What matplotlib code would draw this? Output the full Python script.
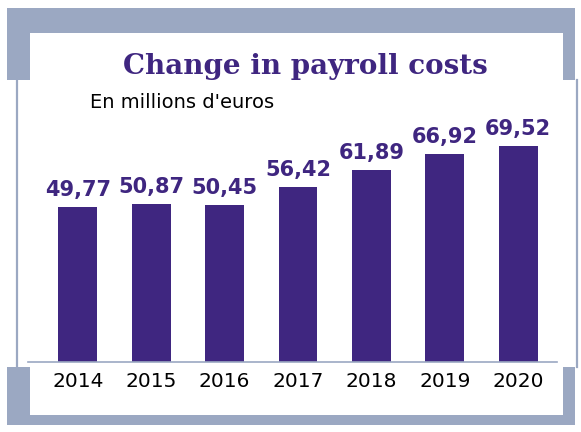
import matplotlib
matplotlib.use("Agg")
import matplotlib.pyplot as plt
from matplotlib.patches import Rectangle
from matplotlib.lines import Line2D

years = ["2014", "2015", "2016", "2017", "2018", "2019", "2020"]
values = [49.77, 50.87, 50.45, 56.42, 61.89, 66.92, 69.52]
labels = ["49,77", "50,87", "50,45", "56,42", "61,89", "66,92", "69,52"]

W, H = 581, 432
purple = "#3F2680"
frame = "#9BA8C2"

fig = plt.figure(figsize=(W / 100, H / 100), dpi=100)

def px_rect(x0, y0, x1, y1, color, z):
    fig.patches.append(Rectangle((x0 / W, 1 - y1 / H), (x1 - x0) / W, (y1 - y0) / H,
                                 transform=fig.transFigure, color=color, zorder=z, lw=0))

px_rect(7, 8, 575, 80, frame, 0)
px_rect(7, 367, 575, 425, frame, 0)
px_rect(30, 33, 563, 415, "white", 1)
for x in (17, 577):
    fig.lines.append(Line2D([x / W, x / W], [1 - 80 / H, 1 - 367 / H],
                            transform=fig.transFigure, color=frame, lw=1.6, zorder=0))

ax = fig.add_axes([28 / W, 1 - 362 / H, (557 - 28) / W, 248.6 / H])
ax.set_zorder(2)
ax.patch.set_visible(False)
x = range(len(years))
ax.bar(x, values, width=0.53, color=purple)
for xi, v, lab in zip(x, values, labels):
    ax.text(xi, v + 2.3, lab, ha="center", va="bottom", color=purple,
            fontsize=15, fontweight="bold", family="DejaVu Sans")
ax.set_xlim(-0.68, 6.53)
ax.set_ylim(0, 80)
ax.set_xticks(list(x))
ax.set_xticklabels(years, fontsize=14.5, color="black")
ax.tick_params(axis="x", length=0, pad=7)
ax.set_yticks([])
for s in ("top", "right", "left"):
    ax.spines[s].set_visible(False)
ax.spines["bottom"].set_color(frame)
ax.spines["bottom"].set_linewidth(1.2)

fig.text(305 / W, 1 - 66 / H, "Change in payroll costs", ha="center", va="center",
         fontsize=20, fontweight="bold", family="DejaVu Serif", color=purple, zorder=3)
fig.text(90 / W, 1 - 102 / H, "En millions d'euros", ha="left", va="center",
         fontsize=14, color="black", zorder=3)

fig.savefig("out.png", dpi=100)
